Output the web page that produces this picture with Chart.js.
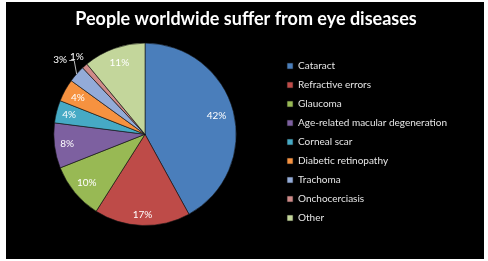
<!DOCTYPE html>
<html>
<head>
<meta charset="utf-8">
<script src="https://cdn.jsdelivr.net/npm/chart.js@4"></script>
<style>
  html, body { margin: 0; padding: 0; background: #fff; }
  #frame {
    position: absolute;
    left: 6px;
    top: 2px;
    width: 478px;
    height: 257px;
    background: #000;
  }
</style>
</head>
<body>
<div id="frame"><canvas id="eyeChart"></canvas></div>
<script>
const categories = ['Cataract', 'Refractive errors', 'Glaucoma', 'Age-related macular degeneration',
    'Corneal scar', 'Diabetic retinopathy', 'Trachoma', 'Onchocerciasis', 'Other'];
const shares = [42, 17, 10, 8, 4, 4, 3, 1, 11];
const percentLabels = ['42%', '17%', '10%', '8%', '4%', '4%', '3%', '1%', '11%'];

const sliceColors = ['#4a7ebb', '#be4b48', '#98b954', '#7d60a0', '#46aac5', '#f69240',
    '#93abd8', '#cf8a88', '#c3d69b'];

// where each percent label sits, as a fraction of the radius
const labelRadius = [0.81, 0.88, 0.83, 0.86, 0.86, 0.84, 1.24, 1.13, 0.83];

const percentPlugin = {
    id: 'percentLabels',
    afterDatasetsDraw(chart) {
        const ctx = chart.ctx;
        const meta = chart.getDatasetMeta(0);
        ctx.save();
        ctx.font = '10px Lato';
        ctx.fillStyle = '#ffffff';
        ctx.textAlign = 'center';
        ctx.textBaseline = 'middle';
        meta.data.forEach((arc, i) => {
            const p = arc.getProps(['x', 'y', 'startAngle', 'endAngle', 'outerRadius'], true);
            const mid = (p.startAngle + p.endAngle) / 2;
            const r = p.outerRadius * labelRadius[i];
            const lx = p.x + Math.cos(mid) * r;
            const ly = p.y + Math.sin(mid) * r;
            ctx.fillText(percentLabels[i], lx, ly);
            if (i === 6) {
                // leader line for the small outside label
                ctx.strokeStyle = '#bbbbbb';
                ctx.lineWidth = 1;
                ctx.beginPath();
                ctx.moveTo(lx + 9, ly + 1);
                ctx.lineTo(lx + 14, ly + 1);
                ctx.lineTo(p.x + Math.cos(mid) * p.outerRadius, p.y + Math.sin(mid) * p.outerRadius);
                ctx.stroke();
            }
        });
        ctx.restore();
    }
};

// leave some empty room right of the legend, so the title stays centred on the frame
const legendRoom = {
    id: 'legendRoom',
    afterInit(chart) {
        const legend = chart.legend;
        const baseFit = legend.fit;
        legend.fit = function () {
            baseFit.call(this);
            this.width += 23;
        };
    }
};

new Chart(document.getElementById('eyeChart'), {
    type: 'pie',
    data: {
        labels: categories,
        datasets: [{
            data: shares,
            backgroundColor: sliceColors,
            borderColor: 'rgba(20, 20, 20, 0.6)',
            borderWidth: 1
        }]
    },
    options: {
        responsive: true,
        maintainAspectRatio: false,
        animation: false,
        devicePixelRatio: 1,
        layout: {
            padding: { left: 6, right: 4, top: 0, bottom: 0 }
        },
        plugins: {
            title: {
                display: true,
                text: 'People worldwide suffer from eye diseases',
                color: '#ffffff',
                font: { family: 'Lato', size: 18, weight: 'bold' },
                padding: { top: 6, bottom: 13 }
            },
            // blank strip under the pie
            subtitle: {
                display: true,
                position: 'bottom',
                fullSize: false,
                text: ' ',
                font: { size: 33, lineHeight: 1 },
                padding: 0
            },
            legend: {
                position: 'right',
                align: 'center',
                title: {
                    display: true,
                    text: ' ',
                    font: { size: 23, lineHeight: 1 },
                    padding: 0
                },
                labels: {
                    color: '#e6e6e6',
                    font: { family: 'Lato', size: 10 },
                    boxWidth: 6,
                    boxHeight: 6,
                    padding: 9
                }
            },
            tooltip: { enabled: false }
        }
    },
    plugins: [percentPlugin, legendRoom]
});
</script>
</body>
</html>
